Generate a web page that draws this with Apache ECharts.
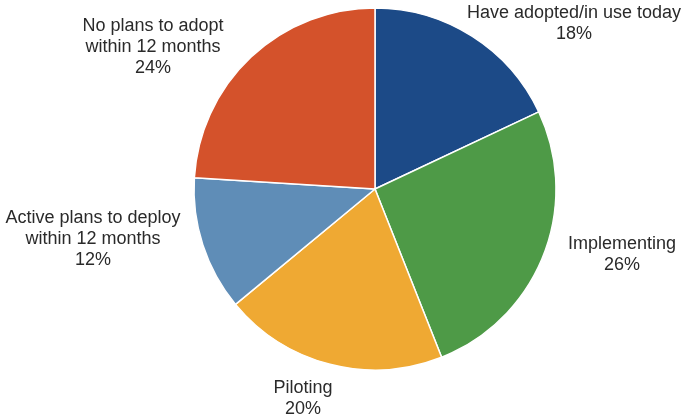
<!DOCTYPE html>
<html>
<head>
<meta charset="utf-8">
<script src="https://cdn.jsdelivr.net/npm/echarts@6/dist/echarts.min.js"></script>
<style>html,body{margin:0;padding:0;background:#fff;}#c{width:687px;height:420px;}</style>
</head>
<body>
<div id="c"></div>
<script>
const categories = ["Have adopted/in use today", "Implementing", "Piloting", "Active plans to deploy\nwithin 12 months", "No plans to adopt\nwithin 12 months"];
const values = [18, 26, 20, 12, 24];
const colors = ["#1c4a87", "#4e9a47", "#efa933", "#5f8db7", "#d4522b"];
// label anchor positions (centre of each text block), layout only
const labelPos = [[574, 24], [622, 255], [303, 399], [93, 239], [153, 47]];

const chart = echarts.init(document.getElementById('c'), null, {renderer: 'canvas'});
chart.setOption({
  animation: false,
  backgroundColor: '#ffffff',
  series: [{
    type: 'pie',
    center: [375, 189],
    radius: 181,
    startAngle: 90,
    clockwise: true,
    data: categories.map((c, i) => ({name: c, value: values[i], itemStyle: {color: colors[i]}})),
    itemStyle: {borderColor: '#ffffff', borderWidth: 1.5},
    label: {
      show: true,
      position: 'outside',
      formatter: p => p.name + '\n' + p.value + '%',
      fontFamily: 'Liberation Sans, Arial, sans-serif',
      fontSize: 18,
      lineHeight: 21,
      color: '#2a2a2a',
      align: 'center',
      overflow: 'none',
      width: 300
    },
    labelLine: {show: false},
    labelLayout: p => ({
      x: labelPos[p.dataIndex][0],
      y: labelPos[p.dataIndex][1],
      align: 'center',
      verticalAlign: 'middle'
    }),
    emphasis: {disabled: true}
  }]
});
</script>
</body>
</html>
